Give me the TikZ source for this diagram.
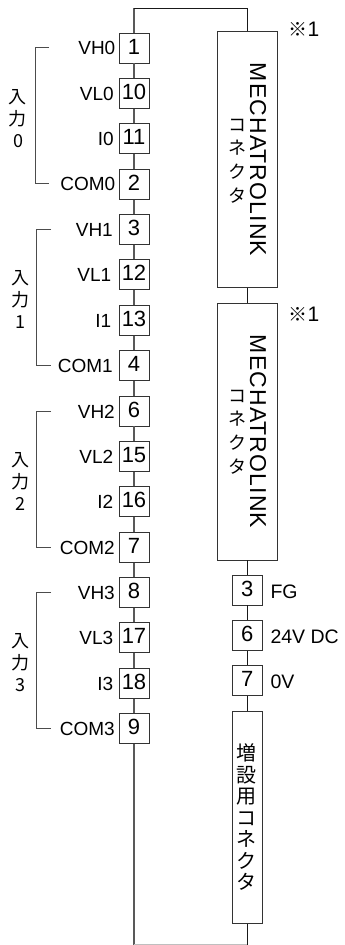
\documentclass[tikz,border=0pt]{standalone}
\usepackage{fontspec}
\setmainfont{Liberation Sans}
\newfontfamily\cjk{Noto Sans CJK JP}
\newfontfamily\spaced[LetterSpace=4.8]{Liberation Sans}
\newcommand{\fs}[2]{\fontsize{#1}{#2}\selectfont}
\begin{document}
\begin{tikzpicture}[x=1pt,y=-1pt,
  pin/.style={draw=black!80,line width=0.9pt,fill=white,minimum width=30pt,minimum height=30pt,inner sep=0pt,text height=16pt,text depth=4pt,font=\fs{22}{22}},
  sig/.style={anchor=base east,inner sep=0pt,font=\fs{19}{19}},
  rsig/.style={anchor=base west,inner sep=0pt,font=\fs{19.5}{19.5}},
  conn/.style={draw=black!80,line width=0.9pt,fill=white,inner sep=0pt},
  wireL/.style={draw=black!65,line width=1.1pt},
  wireR/.style={draw=black!90,line width=0.8pt},
  brk/.style={draw=black!70,line width=0.8pt},
  grp/.style={align=center,inner sep=0pt,font=\cjk\fs{18}{22}},
  note/.style={anchor=base west,inner sep=0pt,font=\fs{21}{21}},
  mech/.style={rotate=-90,anchor=base,inner sep=0pt,font=\spaced\fs{23}{23}},
  kana/.style={align=center,inner sep=0pt,font=\cjk\fs{18}{23.8}},
  kanaB/.style={align=center,inner sep=0pt,font=\cjk\fs{20}{21.5}}]
\useasboundingbox (0,0) rectangle (345,945);
% frame points
\coordinate (tl) at (134,8);
\coordinate (tr) at (247.3,8);
\coordinate (bl) at (134,944.5);
\coordinate (br) at (247.3,944.5);
% left pins
\node[pin] (p1)  at (134,48)     {1};
\node[pin] (p10) at (134,93.4)   {10};
\node[pin] (p11) at (134,138.7)  {11};
\node[pin] (p2)  at (134,184.1)  {2};
\node[pin] (p3)  at (134,229.5)  {3};
\node[pin] (p12) at (134,274.9)  {12};
\node[pin] (p13) at (134,320.2)  {13};
\node[pin] (p4)  at (134,365.6)  {4};
\node[pin] (p6)  at (134,411)    {6};
\node[pin] (p15) at (134,456.3)  {15};
\node[pin] (p16) at (134,501.7)  {16};
\node[pin] (p7)  at (134,547.1)  {7};
\node[pin] (p8)  at (134,592.4)  {8};
\node[pin] (p17) at (134,637.8)  {17};
\node[pin] (p18) at (134,683.2)  {18};
\node[pin] (p9)  at (134,728.5)  {9};
% right column
\node[conn,minimum width=60.5pt,minimum height=256.5pt] (m1) at (247.3,159.2) {};
\node[conn,minimum width=60.5pt,minimum height=257pt] (m2) at (247.3,431.5) {};
\node[pin] (r3) at (247.3,590) {3};
\node[pin] (r6) at (247.3,635.3) {6};
\node[pin] (r7) at (247.3,680.8) {7};
\node[conn,minimum width=30pt,minimum height=212pt] (ext) at (247.3,817.5) {};
% wires
\draw[wireL] (p1) -- (tl);
\draw[wireR] (tl) -- (tr) -- (m1);
\draw[wireL] (p1) -- (p10);
\draw[wireL] (p10) -- (p11);
\draw[wireL] (p11) -- (p2);
\draw[wireL] (p2) -- (p3);
\draw[wireL] (p3) -- (p12);
\draw[wireL] (p12) -- (p13);
\draw[wireL] (p13) -- (p4);
\draw[wireL] (p4) -- (p6);
\draw[wireL] (p6) -- (p15);
\draw[wireL] (p15) -- (p16);
\draw[wireL] (p16) -- (p7);
\draw[wireL] (p7) -- (p8);
\draw[wireL] (p8) -- (p17);
\draw[wireL] (p17) -- (p18);
\draw[wireL] (p18) -- (p9);
\draw[wireL] (p9) -- (bl);
\draw[wireR] (m1) -- (m2);
\draw[wireR] (m2) -- (r3);
\draw[wireR] (r3) -- (r6);
\draw[wireR] (r6) -- (r7);
\draw[wireR] (r7) -- (ext);
\draw[wireR] (ext) -- (br);
\draw[draw=black!25,line width=0.8pt] (bl) -- (br);
% signal labels
\node[sig] (s1)  at (115.5,54.5)  {VH0};
\node[sig] (s2)  at (114,100)   {VL0};
\node[sig] (s3)  at (114,145.5) {I0};
\node[sig] (s4)  at (115.5,190.5) {COM0};
\node[sig] (s5)  at (113,236)   {VH1};
\node[sig] (s6)  at (111.5,281) {VL1};
\node[sig] (s7)  at (111.5,327) {I1};
\node[sig] (s8)  at (113,372)   {COM1};
\node[sig] (s9)  at (115,418)   {VH2};
\node[sig] (s10) at (113.5,463) {VL2};
\node[sig] (s11) at (113.5,508.5) {I2};
\node[sig] (s12) at (115,554)   {COM2};
\node[sig] (s13) at (115,599)   {VH3};
\node[sig] (s14) at (113.5,644.5) {VL3};
\node[sig] (s15) at (113.5,690) {I3};
\node[sig] (s16) at (115,735.5) {COM3};
% brackets
\coordinate (b0a) at (49,47);   \coordinate (b0b) at (35,47);
\coordinate (b0c) at (35,183);  \coordinate (b0d) at (49,183);
\coordinate (b1a) at (51,229);  \coordinate (b1b) at (36,229);
\coordinate (b1c) at (36,365);  \coordinate (b1d) at (51,365);
\coordinate (b2a) at (51,411);  \coordinate (b2b) at (36,411);
\coordinate (b2c) at (36,547);  \coordinate (b2d) at (51,547);
\coordinate (b3a) at (51,592);  \coordinate (b3b) at (36,592);
\coordinate (b3c) at (36,728);  \coordinate (b3d) at (51,728);
\draw[brk] (b0a) -- (b0b) -- (b0c) -- (b0d);
\draw[brk] (b1a) -- (b1b) -- (b1c) -- (b1d);
\draw[brk] (b2a) -- (b2b) -- (b2c) -- (b2d);
\draw[brk] (b3a) -- (b3b) -- (b3c) -- (b3d);
\node[grp] (g0) at (18,118.5) {入\\力\\0};
\node[grp] (g1) at (20,299.5) {入\\力\\1};
\node[grp] (g2) at (20,481.5) {入\\力\\2};
\node[grp] (g3) at (20,662.5) {入\\力\\3};
% connector text
\node[mech] (t1) at (250,159.5) {MECHATROLINK};
\node[kana] (k1) at (237,161) {コ\\ネ\\ク\\タ};
\node[mech] (t2) at (250,431.5) {MECHATROLINK};
\node[kana] (k2) at (237,432) {コ\\ネ\\ク\\タ};
\node[kanaB] (k3) at (246,817.5) {増\\設\\用\\コ\\ネ\\ク\\タ};
\node[note] (n1) at (288.5,36.7) {{\cjk\fs{19}{21}※}1};
\node[note] (n2) at (288.5,321) {{\cjk\fs{19}{21}※}1};
\node[rsig] (f1) at (270.3,598) {FG};
\node[rsig] (f2) at (270.3,643) {24V DC};
\node[rsig] (f3) at (270.3,688.5) {0V};
\end{tikzpicture}
\end{document}
